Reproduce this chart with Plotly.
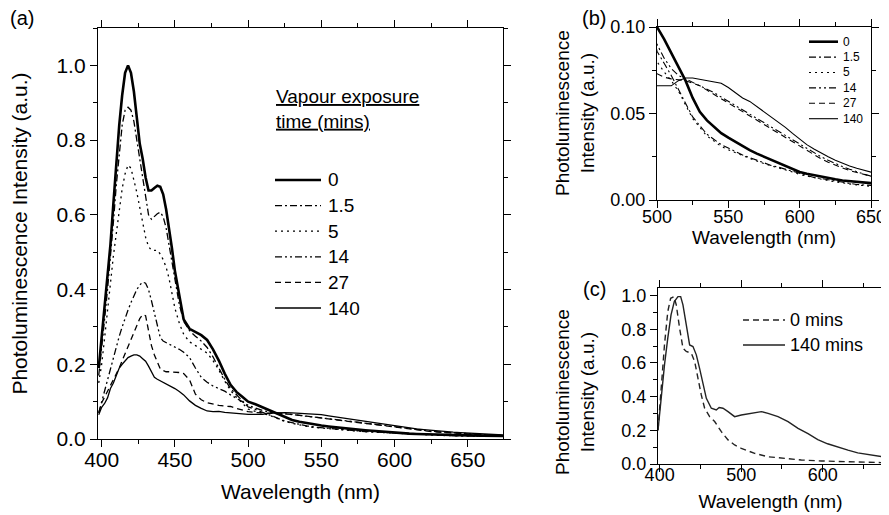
import plotly.graph_objects as go

# ---------------- data ----------------
wavelength = [398, 400, 402, 404, 406, 408, 410, 412, 414, 416, 418, 420, 422, 424, 426, 428, 430,
              432, 434, 436, 438, 440, 442, 444, 446, 448, 450, 453, 456, 460, 464, 468, 472, 476,
              480, 484, 488, 492, 496, 500, 505, 510, 515, 520, 525, 530, 535, 540, 545, 550, 555,
              560, 565, 570, 575, 580, 585, 590, 595, 600, 605, 610, 615, 620, 625, 630, 635, 640,
              645, 650, 660, 675]

pl_0min = [0.19, 0.27, 0.36, 0.44, 0.52, 0.63, 0.74, 0.84, 0.92, 0.98, 1.0, 0.98, 0.93, 0.86, 0.79,
           0.75, 0.70, 0.665, 0.665, 0.672, 0.678, 0.675, 0.655, 0.615, 0.565, 0.51, 0.45, 0.38, 0.32,
           0.295, 0.287, 0.278, 0.265, 0.24, 0.21, 0.175, 0.145, 0.126, 0.113, 0.100, 0.093, 0.085,
           0.077, 0.069, 0.059, 0.051, 0.046, 0.042, 0.0386, 0.036, 0.0335, 0.031, 0.0288, 0.0268,
           0.025, 0.0232, 0.0215, 0.0198, 0.018, 0.0162, 0.0152, 0.0143, 0.0135, 0.0127, 0.012,
           0.0113, 0.0108, 0.0104, 0.0100, 0.0097, 0.009, 0.008]

pl_1_5min = [0.17, 0.24, 0.32, 0.40, 0.48, 0.58, 0.68, 0.77, 0.84, 0.88, 0.888, 0.88, 0.85, 0.80,
             0.75, 0.70, 0.64, 0.60, 0.588, 0.595, 0.603, 0.607, 0.595, 0.565, 0.52, 0.47, 0.42, 0.36,
             0.315, 0.29, 0.275, 0.262, 0.245, 0.22, 0.19, 0.16, 0.135, 0.118, 0.102, 0.086, 0.079,
             0.072, 0.064, 0.056, 0.048, 0.043, 0.038, 0.035, 0.032, 0.030, 0.028, 0.026, 0.0245,
             0.023, 0.0215, 0.020, 0.019, 0.0178, 0.0165, 0.015, 0.014, 0.013, 0.0124, 0.0116, 0.011,
             0.0102, 0.0096, 0.009, 0.0086, 0.0082, 0.0076, 0.007]

pl_5min = [0.15, 0.20, 0.27, 0.35, 0.42, 0.49, 0.55, 0.61, 0.67, 0.71, 0.733, 0.725, 0.695, 0.66,
           0.62, 0.575, 0.54, 0.515, 0.505, 0.505, 0.505, 0.495, 0.48, 0.46, 0.43, 0.39, 0.35, 0.31,
           0.28, 0.26, 0.25, 0.24, 0.23, 0.21, 0.185, 0.155, 0.13, 0.112, 0.097, 0.080, 0.074, 0.069,
           0.063, 0.055, 0.047, 0.042, 0.037, 0.034, 0.031, 0.029, 0.0272, 0.0255, 0.024, 0.0225,
           0.021, 0.0197, 0.0186, 0.0175, 0.0162, 0.0148, 0.0138, 0.0128, 0.012, 0.0112, 0.0105,
           0.0098, 0.0092, 0.0087, 0.0083, 0.0078, 0.0072, 0.0065]

pl_14min = [0.07, 0.10, 0.128, 0.16, 0.19, 0.222, 0.25, 0.275, 0.30, 0.325, 0.345, 0.365, 0.385,
            0.40, 0.412, 0.42, 0.417, 0.40, 0.37, 0.335, 0.30, 0.272, 0.262, 0.258, 0.255, 0.25,
            0.246, 0.24, 0.232, 0.218, 0.19, 0.165, 0.152, 0.142, 0.135, 0.128, 0.118, 0.11, 0.10,
            0.09, 0.082, 0.076, 0.072, 0.070, 0.068, 0.066, 0.064, 0.062, 0.0595, 0.057, 0.0545,
            0.052, 0.0495, 0.047, 0.0445, 0.042, 0.0395, 0.037, 0.0345, 0.032, 0.0295, 0.027, 0.025,
            0.023, 0.021, 0.0193, 0.0178, 0.0163, 0.015, 0.0138, 0.012, 0.0095]

pl_27min = [0.07, 0.097, 0.112, 0.127, 0.142, 0.158, 0.174, 0.19, 0.21, 0.229, 0.247, 0.265, 0.285,
            0.305, 0.322, 0.333, 0.33, 0.29, 0.25, 0.225, 0.205, 0.188, 0.183, 0.18, 0.18, 0.18,
            0.179, 0.178, 0.175, 0.158, 0.12, 0.105, 0.097, 0.093, 0.09, 0.088, 0.087, 0.082, 0.077,
            0.073, 0.071, 0.070, 0.0695, 0.069, 0.0675, 0.066, 0.0635, 0.061, 0.0585, 0.056, 0.0535,
            0.051, 0.0485, 0.046, 0.0435, 0.041, 0.0385, 0.036, 0.0335, 0.031, 0.0285, 0.026, 0.0238,
            0.0218, 0.02, 0.0185, 0.017, 0.0158, 0.0146, 0.0135, 0.0115, 0.009]

pl_140min = [0.065, 0.085, 0.095, 0.11, 0.135, 0.15, 0.17, 0.19, 0.20, 0.21, 0.218, 0.222, 0.225,
             0.225, 0.222, 0.215, 0.208, 0.195, 0.18, 0.165, 0.16, 0.156, 0.151, 0.147, 0.143, 0.14,
             0.135, 0.127, 0.118, 0.102, 0.09, 0.082, 0.075, 0.073, 0.074, 0.071, 0.069, 0.068, 0.067,
             0.066, 0.066, 0.066, 0.069, 0.0705, 0.0705, 0.0698, 0.069, 0.068, 0.0675, 0.065, 0.062,
             0.059, 0.057, 0.054, 0.051, 0.0482, 0.0452, 0.042, 0.0385, 0.035, 0.032, 0.0295, 0.027,
             0.025, 0.023, 0.0212, 0.0197, 0.0183, 0.0172, 0.0162, 0.014, 0.0105]

series_names = ["0", "1.5", "5", "14", "27", "140"]
series_values = [pl_0min, pl_1_5min, pl_5min, pl_14min, pl_27min, pl_140min]
legend_title_a = "<u>Vapour exposure</u><br><u>time (mins)</u>"

# panel (c): normalised spectra
wavelength_c0 = [398, 402, 406, 410, 413.5, 417.6, 420.4, 424.5, 428.6, 432.7, 438.9, 443, 447,
                 451.1, 455.2, 461.3, 467.5, 475.7, 483.9, 492, 500.2, 516.6, 533, 549.3, 573.8,
                 598.4, 623, 647.5, 674]
norm_0min = [0.2, 0.47, 0.71, 0.905, 0.984, 0.994, 0.945, 0.807, 0.688, 0.668, 0.658, 0.608, 0.509,
             0.41, 0.331, 0.281, 0.252, 0.192, 0.143, 0.113, 0.093, 0.063, 0.043, 0.034, 0.024,
             0.018, 0.014, 0.010, 0.008]
wavelength_c140 = [398, 402, 406, 410, 414, 418, 422.5, 425.8, 428.6, 432.7, 436.8, 440.9, 445, 449,
                   453.2, 457.3, 463.4, 469.5, 473, 477.7, 483.9, 492, 500.2, 512.5, 524.8, 533,
                   545.2, 557.5, 569.8, 582, 594, 606, 619, 631, 643, 656, 668, 674]
norm_140min = [0.2, 0.41, 0.59, 0.747, 0.886, 0.965, 0.994, 0.994, 0.945, 0.826, 0.707, 0.697, 0.648,
               0.568, 0.47, 0.39, 0.331, 0.321, 0.335, 0.331, 0.311, 0.281, 0.291, 0.301, 0.311,
               0.301, 0.281, 0.252, 0.212, 0.18, 0.145, 0.12, 0.098, 0.082, 0.066, 0.055, 0.046,
               0.043]
names_c = ["0 mins", "140 mins"]

# ---------------- styling ----------------
FONT = "Arial, Liberation Sans, sans-serif"
OFF = 8                      # page body margin of the exported html
W, H = 889 - OFF, 515 - OFF
styles = [
    dict(width=2.6, dash="solid"),
    dict(width=1.3, dash="7px,3px,2px,3px"),
    dict(width=1.3, dash="2px,4px"),
    dict(width=1.3, dash="7px,3px,2px,3px,2px,3px"),
    dict(width=1.3, dash="6px,4px"),
    dict(width=1.3, dash="solid"),
]
styles_c = [dict(width=1.4, dash="6px,4px"), dict(width=1.4, dash="solid")]


def px_x(p):
    return (p - OFF) / W


def px_y(p):
    return 1 - (p - OFF) / H


fig = go.Figure()

for name, vals, st in zip(series_names, series_values, styles):
    fig.add_trace(go.Scatter(x=wavelength, y=vals, name=name, mode="lines",
                             line=dict(color="black", **st), xaxis="x", yaxis="y"))
for name, vals, st in zip(series_names, series_values, styles):
    st2 = dict(st)
    st2["width"] = 2.6 if name == "0" else 1.1
    fig.add_trace(go.Scatter(x=wavelength, y=vals, name=name, mode="lines",
                             line=dict(color="black", **st2), xaxis="x2", yaxis="y2"))
for name, xs, ys, st in zip(names_c, [wavelength_c0, wavelength_c140], [norm_0min, norm_140min],
                            styles_c):
    fig.add_trace(go.Scatter(x=xs, y=ys, name=name, mode="lines",
                             line=dict(color="#222", **st), xaxis="x3", yaxis="y3"))

# ---------------- keys (paper-positioned samples + labels) ----------------
shapes, key_ann = [], []


def add_key(names, stys, x0, x1, xt, ytop, step, size, color="black", widths=None):
    for i, (name, st) in enumerate(zip(names, stys)):
        yy = px_y(ytop + step * i)
        w = widths[i] if widths else st["width"]
        shapes.append(dict(type="line", xref="paper", yref="paper", x0=px_x(x0), x1=px_x(x1),
                           y0=yy, y1=yy, line=dict(color=color, width=w, dash=st["dash"])))
        key_ann.append(dict(text=name, x=px_x(xt), y=yy, xref="paper", yref="paper",
                            showarrow=False, xanchor="left", yanchor="middle",
                            font=dict(size=size)))


add_key(series_names, styles, 275, 321, 326, 180, 25.6, 19)
add_key(series_names, styles, 809, 838, 841, 41.7, 15.4, 12,
        widths=[2.6, 1.1, 1.1, 1.1, 1.1, 1.1])
add_key(names_c, styles_c, 743, 785, 788, 320, 25, 18, color="#222")
key_ann.append(dict(text=legend_title_a, x=px_x(274), y=px_y(109), xref="paper", yref="paper",
                    showarrow=False, xanchor="left", yanchor="middle", align="left",
                    font=dict(size=19)))


def ax(size, **kw):
    d = dict(showline=True, linecolor="black", linewidth=1.3, mirror="ticks", ticks="outside",
             ticklen=7, tickwidth=1.3, tickcolor="black", showgrid=False, zeroline=False,
             automargin=False, tickfont=dict(family=FONT, size=size, color="black"))
    d.update(kw)
    return d


minor = lambda dt: dict(dtick=dt, ticks="outside", ticklen=4, tickwidth=1.2, tickcolor="black",
                        showgrid=False)

fig.update_layout(
    width=W, height=H, autosize=False,
    margin=dict(l=0, r=0, t=0, b=0),
    paper_bgcolor="white", plot_bgcolor="white",
    font=dict(family=FONT, color="black"),
    showlegend=False,
    xaxis=ax(21, domain=[px_x(98), px_x(503)], range=[397.5, 674], tick0=400, dtick=50,
             minor=minor(25), anchor="y", ticklabelstandoff=-5,
             title=dict(text="Wavelength (nm)", font=dict(size=21), standoff=13)),
    yaxis=ax(21, domain=[px_y(439), px_y(28)], range=[0, 1.1], tick0=0, dtick=0.2,
             tickformat=".1f", minor=minor(0.1), anchor="x",
             title=dict(text="Photoluminescence Intensity (a.u.)", font=dict(size=21),
                        standoff=25)),
    xaxis2=ax(18, domain=[px_x(657), px_x(871)], range=[500, 650], tick0=500, dtick=50,
              minor=minor(25), anchor="y2", ticklabelstandoff=-7,
              title=dict(text="Wavelength (nm)", font=dict(size=19), standoff=2)),
    yaxis2=ax(18, domain=[px_y(200), px_y(27)], range=[0, 0.1], tick0=0, dtick=0.05,
              tickformat=".2f", minor=minor(0.025), anchor="x2"),
    xaxis3=ax(18, domain=[px_x(658), px_x(883)], range=[398, 674], tick0=400, dtick=100,
              minor=minor(50), anchor="y3", ticklabelstandoff=-13,
              title=dict(text="Wavelength (nm)", font=dict(size=19), standoff=10)),
    yaxis3=ax(18, domain=[px_y(464), px_y(288)], range=[0, 1.045], tick0=0, dtick=0.2,
              tickformat=".1f", minor=minor(0.1), anchor="x3"),
    shapes=shapes,
    annotations=[
        dict(text="(a)", x=px_x(8), y=px_y(18), xref="paper", yref="paper", showarrow=False,
             xanchor="left", yanchor="middle", font=dict(size=20)),
        dict(text="(b)", x=px_x(580), y=px_y(18), xref="paper", yref="paper", showarrow=False,
             xanchor="left", yanchor="middle", font=dict(size=20)),
        dict(text="(c)", x=px_x(581), y=px_y(289), xref="paper", yref="paper", showarrow=False,
             xanchor="left", yanchor="middle", font=dict(size=20)),
        dict(text="Photoluminescence<br>Intensity (a.u.)", x=px_x(575), y=px_y(113),
             xref="paper", yref="paper", showarrow=False, textangle=-90,
             xanchor="center", yanchor="middle", font=dict(size=19)),
        dict(text="Photoluminescence<br>Intensity (a.u.)", x=px_x(575), y=px_y(392),
             xref="paper", yref="paper", showarrow=False, textangle=-90,
             xanchor="center", yanchor="middle", font=dict(size=19)),
    ] + key_ann,
)

fig.write_html("out.html")
